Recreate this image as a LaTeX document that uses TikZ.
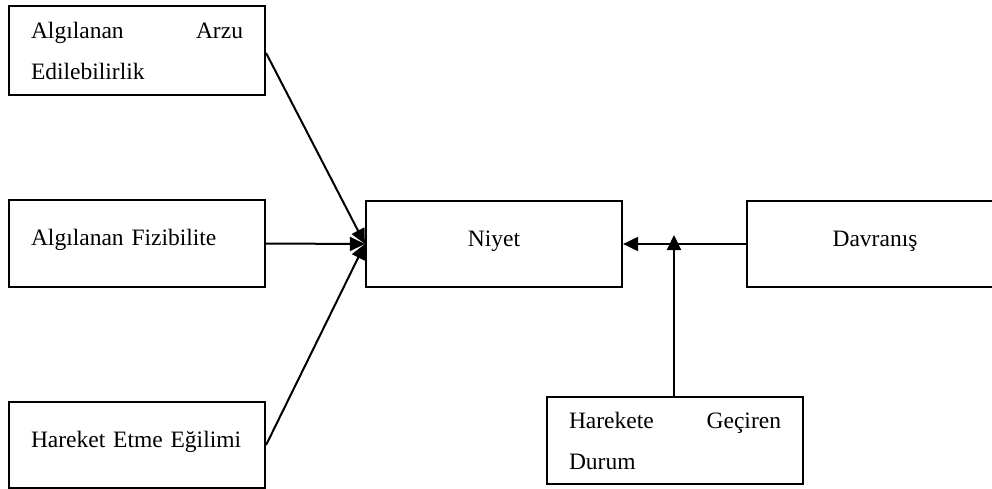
\documentclass[tikz,border=0pt]{standalone}
\usepackage{fontspec}
\setmainfont{Liberation Serif}
\usetikzlibrary{arrows.meta}
\newcommand\diagfont{\fontsize{23.5}{41}\selectfont}
\begin{document}
\begin{tikzpicture}[x=1pt,y=-1pt,
  box/.style={draw, line width=2.2pt, minimum width=256pt, inner xsep=22pt, inner ysep=0pt, text width=212pt, font=\diagfont},
  one/.style={text height=12pt, text depth=8pt},
  conn/.style={line width=2pt, -{Triangle[length=15pt,width=14pt]}}]
\clip (0,0) rectangle (992,489);
\node[box, align=left, minimum height=89pt] (arzu) at (137,50.5) {Algılanan\hfill Arzu\\Edilebilirlik};
\node[box, one, align=left, minimum height=87pt] (fiz) at (137,243.5) {Algılanan Fizibilite};
\node[box, one, align=left, minimum height=86pt] (egilim) at (137,445) {Hareket Etme Eğilimi};
\node[box, one, align=center, minimum height=86pt] (niyet) at (494,244) {Niyet};
\node[box, one, align=center, minimum height=86pt] (dav) at (875,244) {Davranış};
\node[box, align=left, minimum height=87pt] (durum) at (675,440.5) {Harekete\hfill Geçiren\\Durum};
\coordinate (tip) at (674,235);
\draw[conn] ([yshift=-2.5pt]arzu.east) -- (niyet.west);
\draw[conn] (fiz.east) -- (niyet.west);
\draw[conn] (egilim.east) -- (niyet.west);
\draw[conn] (dav.west) -- (niyet.east);
\draw[conn] (durum.north -| tip) -- (tip);
\end{tikzpicture}
\end{document}
